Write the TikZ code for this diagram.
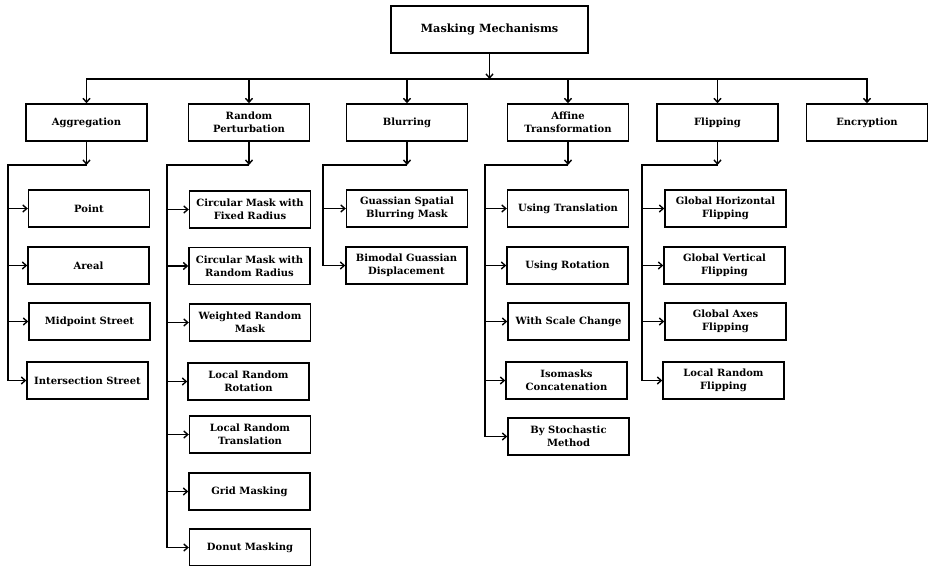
\documentclass[tikz,border=0pt]{standalone}
\usepackage{fontspec}
\setmainfont{DejaVu Serif}
\usetikzlibrary{arrows.meta}
\begin{document}
\begin{tikzpicture}[x=1pt,y=-1pt,
  box/.style={draw, line width=1.4pt, minimum width=121pt, minimum height=37pt, inner sep=1pt, align=center, font=\bfseries\fontsize{10}{13.3}\selectfont},
  arr/.style={line width=1.4pt, -{Straight Barb[length=4pt,width=7pt]}},
  ln/.style={line width=1.4pt}]
\useasboundingbox (0,0) rectangle (928,565);
% root
\node[box, minimum width=197pt, minimum height=47pt, font=\bfseries\fontsize{11.3}{14}\selectfont] (root) at (489.5,29.5) {Masking Mechanisms};
% level 1
\node[box] (agg) at (86.5,122.5) {Aggregation};
\node[box] (rp) at (249,122.5) {Random\\Perturbation};
\node[box] (blur) at (407,122.5) {Blurring};
\node[box] (aff) at (568,122.5) {Affine\\Transformation};
\node[box] (flip) at (717.5,122.5) {Flipping};
\node[box] (enc) at (867,122.5) {Encryption};
% aggregation children
\node[box] (a1) at (89,208.5) {Point};
\node[box] (a2) at (88.5,265.5) {Areal};
\node[box] (a3) at (89.5,321.5) {Midpoint Street};
\node[box] (a4) at (87.5,380.5) {Intersection Street};
% random perturbation children
\node[box] (r1) at (250,209.5) {Circular Mask with\\Fixed Radius};
\node[box] (r2) at (249.5,266) {Circular Mask with\\Random Radius};
\node[box] (r3) at (250,322.5) {Weighted Random\\Mask};
\node[box] (r4) at (248.5,381.5) {Local Random\\Rotation};
\node[box] (r5) at (250,434.5) {Local Random\\Translation};
\node[box] (r6) at (249.5,491.5) {Grid Masking};
\node[box] (r7) at (250,547.5) {Donut Masking};
% blurring children
\node[box] (b1) at (407,208.5) {Guassian Spatial\\Blurring Mask};
\node[box] (b2) at (406.5,265.5) {Bimodal Guassian\\Displacement};
% affine children
\node[box] (f1) at (568,208.5) {Using Translation};
\node[box] (f2) at (567.5,265.5) {Using Rotation};
\node[box] (f3) at (568.5,321.5) {With Scale Change};
\node[box] (f4) at (566.5,380.5) {Isomasks\\Concatenation};
\node[box] (f5) at (568.5,436.5) {By Stochastic\\Method};
% flipping children
\node[box] (g1) at (725.5,208.5) {Global Horizontal\\Flipping};
\node[box] (g2) at (724.5,265.5) {Global Vertical\\Flipping};
\node[box] (g3) at (725.5,321.5) {Global Axes\\Flipping};
\node[box] (g4) at (723.5,380.5) {Local Random\\Flipping};
% bus
\coordinate (busY) at (0,79);
\coordinate (busM) at (root.south |- busY);
\draw[arr] (root.south) -- (busM);
\draw[arr] (busM) -| (agg.north);
\draw[arr] (busM) -| (enc.north);
\foreach \n in {rp,blur,aff,flip}{\draw[arr] (\n.north |- busY) -- (\n.north);}
% junction rows
\coordinate (jY) at (0,165);
\coordinate (aggS) at (8,165);
\coordinate (rpS) at (167,165);
\coordinate (blurS) at (323,165);
\coordinate (affS) at (485,165);
\coordinate (flipS) at (642,165);
% aggregation
\draw[arr] (agg.south) -- (agg.south |- jY);
\draw[arr] (agg.south |- jY) -- (aggS) |- (a4.west);
\foreach \c in {a1,a2,a3}{\draw[arr] (aggS |- \c.west) -- (\c.west);}
% random perturbation
\draw[arr] (rp.south) -- (rp.south |- jY);
\draw[arr] (rp.south |- jY) -- (rpS) |- (r7.west);
\foreach \c in {r1,r2,r3,r4,r5,r6}{\draw[arr] (rpS |- \c.west) -- (\c.west);}
% blurring
\draw[arr] (blur.south) -- (blur.south |- jY);
\draw[arr] (blur.south |- jY) -- (blurS) |- (b2.west);
\draw[arr] (blurS |- b1.west) -- (b1.west);
% affine
\draw[arr] (aff.south) -- (aff.south |- jY);
\draw[arr] (aff.south |- jY) -- (affS) |- (f5.west);
\foreach \c in {f1,f2,f3,f4}{\draw[arr] (affS |- \c.west) -- (\c.west);}
% flipping
\draw[arr] (flip.south) -- (flip.south |- jY);
\draw[arr] (flip.south |- jY) -- (flipS) |- (g4.west);
\foreach \c in {g1,g2,g3}{\draw[arr] (flipS |- \c.west) -- (\c.west);}
\end{tikzpicture}
\end{document}
